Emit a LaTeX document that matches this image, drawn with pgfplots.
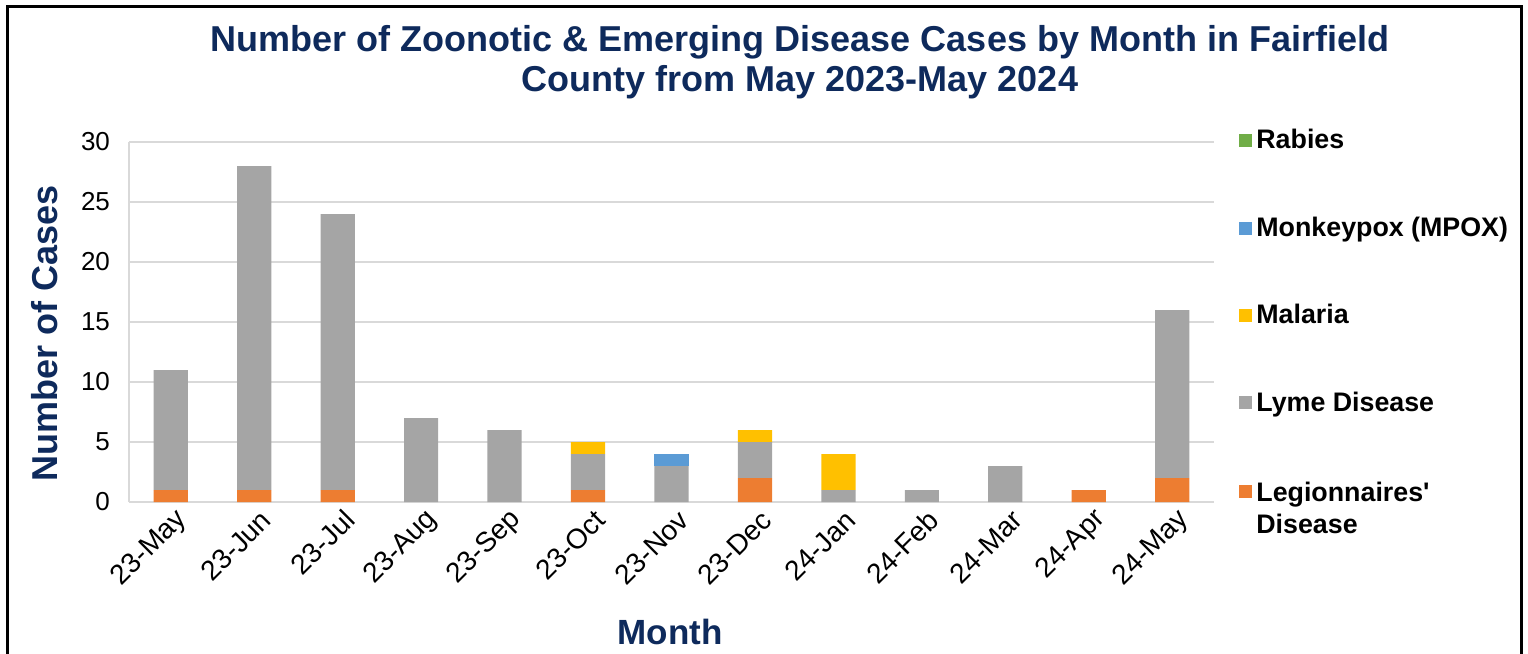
\documentclass[border=0pt]{standalone}
\usepackage{pgfplots}
\pgfplotsset{compat=1.18}
\usepackage{fontspec}
\setmainfont{Liberation Sans}
\definecolor{navy}{RGB}{14,42,92}
\definecolor{cRab}{HTML}{70AD47}
\definecolor{cMpx}{HTML}{5B9BD5}
\definecolor{cMal}{HTML}{FFC000}
\definecolor{cLym}{HTML}{A5A5A5}
\definecolor{cLeg}{HTML}{ED7D31}
\definecolor{gridc}{HTML}{D9D9D9}
\begin{document}
\begin{tikzpicture}
\path[use as bounding box] (0,0) rectangle (764pt,327pt);
\draw[line width=1.5pt] (3.5pt,-1pt) -- (3.5pt,323.5pt) -- (760.5pt,323.5pt) -- (760.5pt,-1pt);
\node[font=\fontsize{18}{20}\selectfont\bfseries, text=navy, align=center] at (400pt,296pt)
  {Number of Zoonotic \& Emerging Disease Cases by Month in Fairfield\\County from May 2023-May 2024};
\node[font=\fontsize{18}{20}\selectfont\bfseries, text=navy, rotate=90] at (22.5pt,160.5pt) {Number of Cases};
\node[font=\fontsize{17.5}{20}\selectfont\bfseries, text=navy] at (335pt,11pt) {Month};
\begin{axis}[
  at={(64.5pt,76pt)}, anchor=south west,
  scale only axis, width=542.5pt, height=180pt,
  ybar stacked, bar width=0.41, bar shift=0pt,
  xmin=-0.5, xmax=12.5, ymin=0, ymax=30,
  xtick={0,...,12},
  xticklabels={23-May,23-Jun,23-Jul,23-Aug,23-Sep,23-Oct,23-Nov,23-Dec,24-Jan,24-Feb,24-Mar,24-Apr,24-May},
  ytick={0,5,...,30},
  /pgf/number format/assume math mode=true,
  yticklabel style={font=\fontsize{13}{15}\selectfont, xshift=-6pt},
  xticklabel style={font=\fontsize{14}{16}\selectfont, rotate=45, anchor=east, xshift=3pt, yshift=-9pt},
  major tick length=0pt,
  axis lines*=left,
  axis line style={gridc, line width=1pt, -},
  ymajorgrids, grid style={gridc, line width=1pt},
  reverse legend,
  legend style={at={(1.0175,1.058)}, anchor=north west, draw=none, fill=none,
    font=\fontsize{13.4}{16}\selectfont\bfseries, row sep=28.5pt,
    cells={anchor=west}},
  legend image code/.code={\fill[#1] (0pt,-3.25pt) rectangle (6.5pt,3.25pt);},
]
\addplot[fill=cLeg, draw=none] coordinates {(0,1) (1,1) (2,1) (3,0) (4,0) (5,1) (6,0) (7,2) (8,0) (9,0) (10,0) (11,1) (12,2)};
\addlegendentry{\raisebox{0pt}[\height][0pt]{\begin{tabular}[t]{@{}l@{}}Legionnaires\textquotesingle\\Disease\end{tabular}}}
\addplot[fill=cLym, draw=none] coordinates {(0,10) (1,27) (2,23) (3,7) (4,6) (5,3) (6,3) (7,3) (8,1) (9,1) (10,3) (11,0) (12,14)};
\addlegendentry{Lyme Disease}
\addplot[fill=cMal, draw=none] coordinates {(0,0) (1,0) (2,0) (3,0) (4,0) (5,1) (6,0) (7,1) (8,3) (9,0) (10,0) (11,0) (12,0)};
\addlegendentry{Malaria}
\addplot[fill=cMpx, draw=none] coordinates {(0,0) (1,0) (2,0) (3,0) (4,0) (5,0) (6,1) (7,0) (8,0) (9,0) (10,0) (11,0) (12,0)};
\addlegendentry{Monkeypox (MPOX)}
\addplot[fill=cRab, draw=none] coordinates {(0,0) (1,0) (2,0) (3,0) (4,0) (5,0) (6,0) (7,0) (8,0) (9,0) (10,0) (11,0) (12,0)};
\addlegendentry{Rabies}
\end{axis}
\end{tikzpicture}
\end{document}
